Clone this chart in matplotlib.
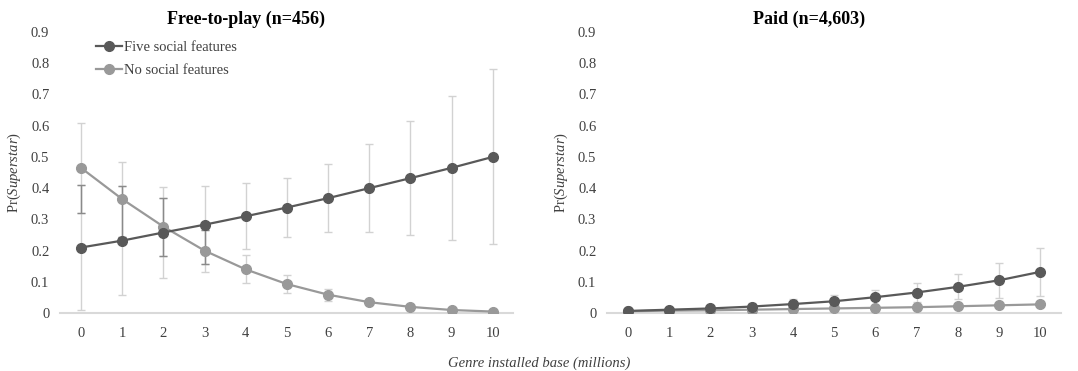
import numpy as np
import matplotlib.pyplot as plt

plt.rcParams['font.family'] = 'Liberation Serif'
plt.rcParams['mathtext.fontset'] = 'custom'
plt.rcParams['mathtext.rm'] = 'Liberation Serif'
plt.rcParams['mathtext.it'] = 'Liberation Serif:italic'

x = np.arange(0, 11)

# Free-to-play
f2p_five = [0.21, 0.232, 0.258, 0.283, 0.310, 0.338, 0.368, 0.400, 0.432, 0.465, 0.500]
f2p_five_err = [0.200, 0.175, 0.147, 0.125, 0.105, 0.095, 0.108, 0.140, 0.183, 0.230, 0.280]
f2p_none = [0.465, 0.365, 0.277, 0.200, 0.140, 0.093, 0.059, 0.035, 0.020, 0.010, 0.005]
f2p_none_err = [0.145, 0.120, 0.093, 0.067, 0.045, 0.030, 0.019, 0.006, 0.004, 0.003, 0.002]

# Paid
paid_five = [0.007, 0.011, 0.015, 0.021, 0.029, 0.038, 0.051, 0.066, 0.084, 0.105, 0.132]
paid_five_err = [0.004, 0.006, 0.009, 0.012, 0.016, 0.020, 0.024, 0.030, 0.040, 0.055, 0.076]
paid_none = [0.006, 0.008, 0.009, 0.011, 0.013, 0.015, 0.017, 0.019, 0.022, 0.025, 0.028]
paid_none_err = [0.002, 0.002, 0.003, 0.003, 0.003, 0.004, 0.004, 0.005, 0.005, 0.006, 0.006]

dark = '#595959'
light = '#999999'
ebar = '#d2d2d2'
ebar_overlap = '#8a8a8a'

fig = plt.figure(figsize=(10.78, 3.71), dpi=100)
ax1 = fig.add_axes([0.056, 0.156, 0.4203, 0.758])
ax2 = fig.add_axes([0.5635, 0.156, 0.4205, 0.758])


def draw(ax, five, five_err, none, none_err):
	five = np.array(five); five_err = np.array(five_err)
	none = np.array(none); none_err = np.array(none_err)
	ax.errorbar(x, five, five_err, fmt='none', ecolor=ebar, elinewidth=1, capsize=3, zorder=1)
	ax.errorbar(x, none, none_err, fmt='none', ecolor=ebar, elinewidth=1, capsize=3, zorder=1)
	# where the two bars overlap they come out darker
	lo = np.maximum(five - five_err, none - none_err)
	hi = np.minimum(five + five_err, none + none_err)
	ok = hi > lo
	ax.errorbar(x[ok], ((lo + hi) / 2)[ok], ((hi - lo) / 2)[ok], fmt='none', ecolor=ebar_overlap,
		elinewidth=1, capsize=3, zorder=2)
	ax.plot(x, five, color=dark, lw=1.6, marker='o', ms=7, label='Five social features', zorder=4)
	ax.plot(x, none, color=light, lw=1.6, marker='o', ms=7, label='No social features', zorder=3)
	ax.set_xlim(-0.5, 10.5)
	ax.set_ylim(0, 0.9)
	ax.set_xticks(x)
	ax.set_yticks(np.arange(0, 0.91, 0.1))
	ax.set_yticklabels(['0'] + ['{:.1f}'.format(v) for v in np.arange(0.1, 0.91, 0.1)])
	for s in ['top', 'right', 'left']:
		ax.spines[s].set_visible(False)
	ax.spines['bottom'].set_color('#d9d9d9')
	ax.spines['bottom'].set_linewidth(1.5)
	ax.tick_params(axis='both', length=0, labelsize=10.5, colors='#404040')
	ax.tick_params(axis='x', pad=10)
	ax.tick_params(axis='y', pad=8)
	ax.set_ylabel(r'Pr($\mathit{Superstar}$)', fontsize=10.5, color='#404040', labelpad=6)


draw(ax1, f2p_five, f2p_five_err, f2p_none, f2p_none_err)
draw(ax2, paid_five, paid_five_err, paid_none, paid_none_err)

ax1.legend(loc='upper left', bbox_to_anchor=(0.05, 1.015), frameon=False, fontsize=10.5,
	handlelength=1.8, handletextpad=0.1, labelspacing=0.65, labelcolor='#404040')

fig.text(246 / 1078, 1 - 19 / 371, 'Free-to-play (n=456)', ha='center', va='center',
	fontsize=13, fontweight='bold')
fig.text(809 / 1078, 1 - 19 / 371, 'Paid (n=4,603)', ha='center', va='center',
	fontsize=13, fontweight='bold')
fig.text(0.5, 1 - 363 / 371, 'Genre installed base (millions)', ha='center', va='center',
	fontsize=10.5, style='italic', color='#404040')

fig.savefig('out.png', dpi=100)
